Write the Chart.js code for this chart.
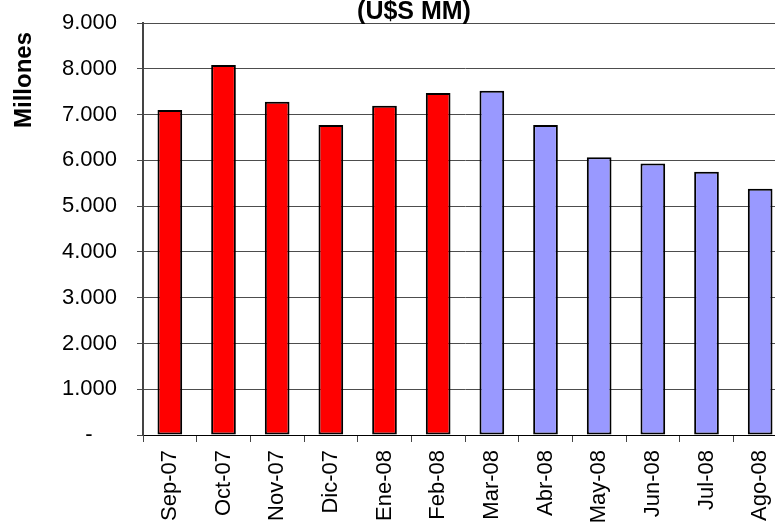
<!DOCTYPE html>
<html>
<head>
<meta charset="utf-8">
<script src="https://cdn.jsdelivr.net/npm/chart.js@4.4.1/dist/chart.umd.min.js"></script>
<style>
  html, body { margin: 0; padding: 0; background: #fff; overflow: hidden; }
  #wrap { width: 775px; height: 527px; overflow: hidden; }
</style>
</head>
<body>
<div id="wrap"><canvas id="c" width="787" height="527"></canvas></div>
<script>
// Meses y montos (millones de U$S)
const meses = ['Sep-07', 'Oct-07', 'Nov-07', 'Dic-07', 'Ene-08', 'Feb-08',
               'Mar-08', 'Abr-08', 'May-08', 'Jun-08', 'Jul-08', 'Ago-08'];
const montos = [7100, 8080, 7280, 6770, 7190, 7470,
                7520, 6770, 6070, 5930, 5750, 5380];
const primerMesAzul = 'Mar-08';
const titulo = '(U$S MM)';
const tituloEje = 'Millones';

const corte = meses.indexOf(primerMesAzul);

// titulo y leyenda del eje Y dibujados a mano
const textos = {
  id: 'textos',
  afterDraw(chart) {
    const c = chart.ctx;
    c.save();
    c.fillStyle = '#000';
    c.font = 'bold 25px "Liberation Sans", Arial, sans-serif';
    c.textAlign = 'center';
    c.textBaseline = 'alphabetic';
    c.fillText(titulo, 414, 19);
    c.translate(24, 80);
    c.rotate(-Math.PI / 2);
    c.font = 'bold 24px "Liberation Sans", Arial, sans-serif';
    c.textBaseline = 'middle';
    c.fillText(tituloEje, 0, 0);
    c.restore();
  }
};

const fmt = v => v === 0 ? '-    ' : v.toLocaleString('de-DE');

new Chart(document.getElementById('c'), {
  type: 'bar',
  data: {
    labels: meses,
    datasets: [{
      data: montos,
      backgroundColor: ctx => ctx.dataIndex < corte ? '#ff0000' : '#9999ff',
      borderColor: '#000',
      borderWidth: 2,
      borderSkipped: false,
      categoryPercentage: 1,
      barPercentage: 0.46
    }]
  },
  options: {
    responsive: false,
    animation: false,
    devicePixelRatio: 1,
    layout: { padding: { top: 23, left: 0, right: 0, bottom: 0 } },
    plugins: {
      legend: { display: false },
      title: { display: false },
      tooltip: { enabled: false }
    },
    scales: {
      x: {
        grid: { drawOnChartArea: false, tickLength: 7, color: '#444', lineWidth: 1 },
        border: { color: '#000', width: 1 },
        ticks: {
          color: '#000',
          font: { family: '"Liberation Sans", Arial, sans-serif', size: 22 },
          minRotation: 90,
          maxRotation: 90,
          padding: 8,
          autoSkip: false
        },
        afterFit(s) { s.height = 92; s.paddingLeft = 0; s.paddingRight = 0; }
      },
      y: {
        min: 0,
        max: 9000,
        grid: { color: '#4d4d4d', lineWidth: 1, tickLength: 6 },
        border: { color: '#444', width: 2 },
        ticks: {
          stepSize: 1000,
          color: '#000',
          padding: 20,
          font: { family: '"Liberation Sans", Arial, sans-serif', size: 22 },
          callback: fmt
        },
        // ancho fijo del eje y sin relleno extra arriba/abajo
        afterFit(s) { s.width = 143; s.paddingTop = 0; s.paddingBottom = 0; }
      }
    }
  },
  plugins: [textos]
});
</script>
</body>
</html>
